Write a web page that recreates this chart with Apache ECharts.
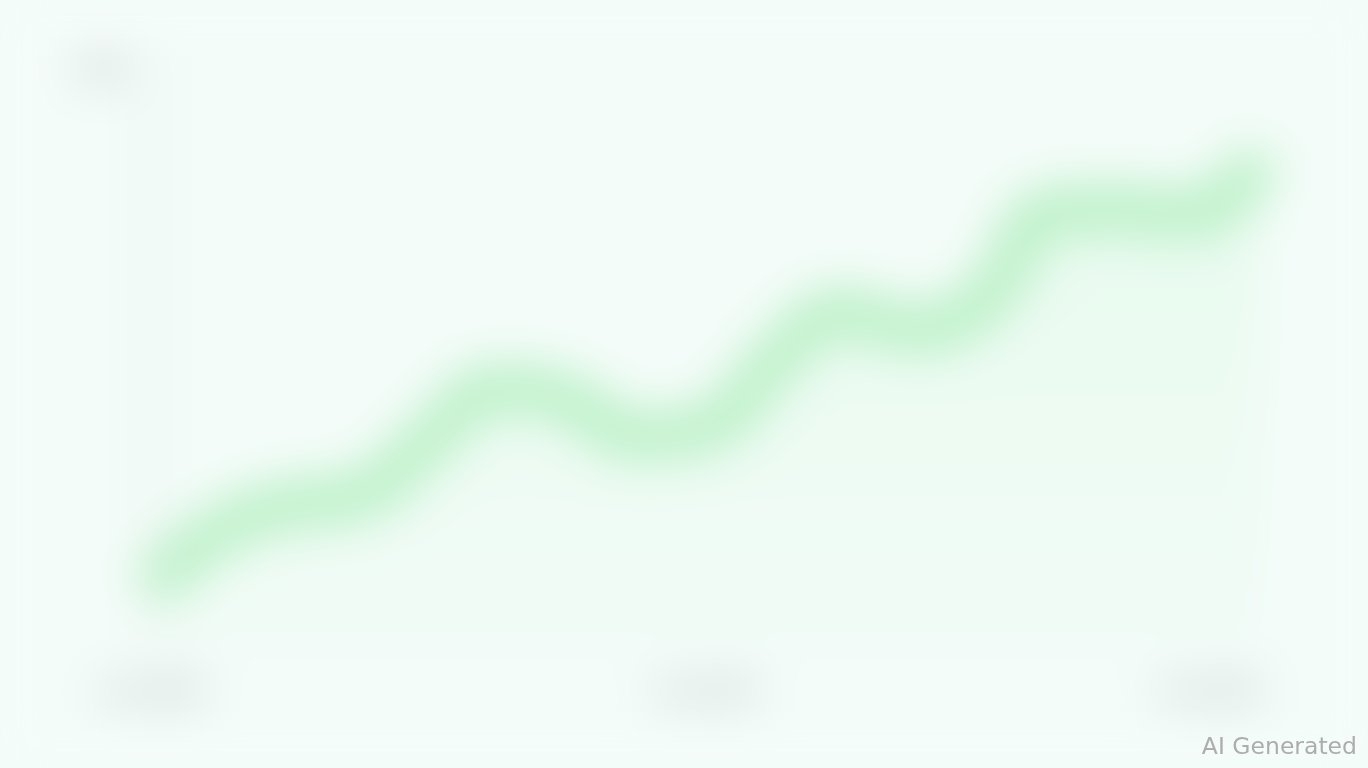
<!DOCTYPE html>
<html>
<head>
<meta charset="utf-8">
<script src="https://cdn.jsdelivr.net/npm/echarts@6/dist/echarts.min.js"></script>
<style>
html,body{margin:0;padding:0;width:1368px;height:768px;overflow:hidden;background:#f4fcf9;}
#chart{position:absolute;left:0;top:0;width:1368px;height:768px;filter:blur(24px);}
#mark{position:absolute;right:11px;bottom:8px;font-family:"DejaVu Sans",sans-serif;font-size:23.5px;color:#adadad;}
</style>
</head>
<body>
<div id="chart"></div>
<div id="mark">AI Generated</div>
<script>
const categories = ['2008','2009','2010','2011','2012','2013','2014','2015','2016','2017','2018','2019','2020','2021','2022','2023','2024'];
const values = [8.5, 19.0, 23.3, 25.0, 34.5, 43.4, 41.7, 35.3, 36.6, 48.3, 56.6, 53.8, 58.6, 74.0, 74.5, 73.6, 83.6];
const shownLabels = ['2008','2016','2024'];
const xLabelText = {'2008': 'Jan 2008', '2016': 'Jan 2016', '2024': 'Jan 2024'};
const yAxisName = '100';

const chart = echarts.init(document.getElementById('chart'));
chart.setOption({
  backgroundColor: '#f4fcf9',
  grid: {left: 150, right: 108, top: 60, bottom: 128},
  xAxis: {
    type: 'category',
    data: categories,
    boundaryGap: false,
    axisLine: {lineStyle: {color: '#e3ebe7', width: 2}},
    axisTick: {show: false},
    axisLabel: {
      interval: 0,
      margin: 40,
      fontSize: 24,
      fontWeight: 'bold',
      color: '#9a9f9d',
      formatter: v => shownLabels.includes(v) ? xLabelText[v] : '',
      alignMinLabel: 'center',
      alignMaxLabel: 'right'
    }
  },
  yAxis: {
    type: 'value',
    min: 0, max: 100,
    name: yAxisName,
    nameGap: -10,
    nameTextStyle: {fontSize: 30, fontWeight: 'bold', color: '#a5aaa8', padding: [0, 100, 0, 0], verticalAlign: 'middle'},
    axisLine: {show: true, lineStyle: {color: '#dde5e1', width: 6}},
    axisLabel: {show: false},
    axisTick: {show: false},
    splitLine: {show: false}
  },
  series: [{
    type: 'line',
    data: values,
    smooth: 0.5,
    symbol: 'none',
    lineStyle: {color: '#b8f0c4', width: 46},
    areaStyle: {
      color: new echarts.graphic.LinearGradient(0, 0, 0, 1, [
        {offset: 0, color: 'rgba(205,246,214,0.5)'},
        {offset: 1, color: 'rgba(225,248,232,0.25)'}
      ])
    }
  }]
});
</script>
</body>
</html>
